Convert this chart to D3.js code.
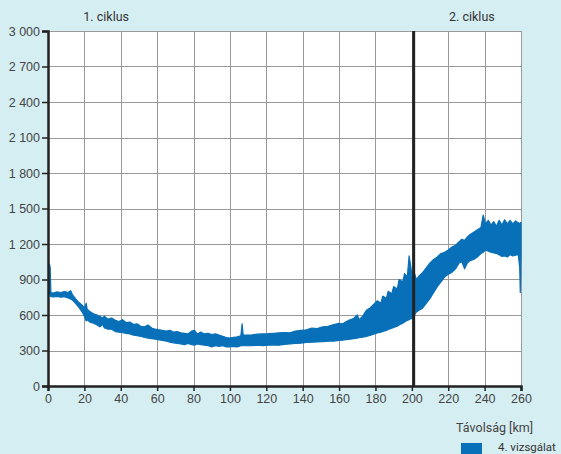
<!DOCTYPE html>
<html>
<head>
<meta charset="utf-8">
<script src="https://cdn.jsdelivr.net/npm/d3@7"></script>
<style>
body { margin:0; background:#d5eef2; }
svg { display:block; font-family: Roboto, "Noto Sans", sans-serif; }
</style>
</head>
<body>
<div id="chart"></div>
<script>
var km = [0.3, 0.8, 1.2, 1.6, 3, 5, 7, 9, 11, 12.5, 13.5, 15, 17, 19, 20, 21, 21.5, 23, 25, 27, 28.5, 30, 31, 33, 35, 37, 39, 41, 43, 45, 47, 49, 51, 53, 55, 57, 59,
    61, 63, 65, 67, 69, 71, 73, 75, 77, 79, 80.5, 82, 84, 86, 88, 90, 92, 94, 96, 98, 100, 102, 104, 106, 106.7, 107.3, 109, 112, 115, 118, 121, 124, 127,
    130, 133, 136, 139, 142, 145, 148, 151, 154, 157, 160, 162, 164, 166, 168, 170, 171, 173, 175, 177, 179, 181, 183, 184, 186, 187, 189, 190, 192, 193,
    195, 196, 197.5, 198.5, 199.5, 200.5, 201.5, 202.5, 204, 206, 208, 210, 212, 214, 216, 218, 220, 222, 224, 226, 227.5, 229, 230.5, 232, 234, 236, 238,
    239.2, 240.5, 242, 243.5, 245, 246.5, 248, 249.5, 251, 252.5, 254, 255.5, 257, 258.5, 259.3, 259.6, 260];
var lower = [780, 800, 760, 755, 752, 758, 750, 755, 745, 735, 725, 700, 665, 620, 590, 550, 560, 540, 530, 515, 500, 520, 490, 480, 480, 460, 455, 450, 445, 440, 430, 425, 420, 410, 405, 400, 395,
    390, 385, 380, 370, 365, 360, 355, 350, 360, 350, 345, 355, 350, 345, 340, 330, 340, 335, 340, 330, 330, 335, 330, 340, 340, 340, 340, 340, 345, 342, 345, 348, 345,
    352, 355, 360, 362, 368, 370, 372, 375, 378, 380, 385, 388, 392, 395, 400, 405, 408, 412, 420, 428, 438, 448, 455, 462, 470, 478, 488, 495, 505, 515,
    530, 540, 555, 560, 570, 570, 600, 625, 640, 660, 700, 740, 790, 840, 880, 920, 945, 960, 990, 1040, 1050, 990, 1040, 1060, 1070, 1090, 1120,
    1130, 1150, 1140, 1130, 1125, 1120, 1110, 1095, 1100, 1090, 1110, 1100, 1105, 1110, 1000, 790, 1100];
var upper = [800, 1030, 1000, 790, 785, 795, 790, 798, 790, 805, 770, 740, 705, 680, 660, 700, 650, 630, 610, 600, 590, 575, 590, 565, 575, 555, 545, 560, 535, 540, 520, 525, 505, 500, 515, 490, 480,
    475, 470, 465, 470, 455, 460, 450, 445, 440, 465, 470, 440, 455, 440, 445, 435, 440, 430, 420, 410, 405, 412, 415, 425, 525, 430, 430, 432, 438, 440, 442, 446, 450,
    452, 450, 465, 470, 475, 490, 485, 500, 505, 520, 530, 525, 545, 560, 570, 600, 560, 590, 640, 660, 690, 720, 700, 760, 740, 800, 780, 840, 820, 900,
    880, 950, 920, 1100, 1000, 880, 950, 900, 930, 960, 1000, 1040, 1070, 1090, 1120, 1130, 1150, 1175, 1190, 1220, 1240, 1230, 1260, 1280, 1300, 1320, 1340,
    1445, 1370, 1400, 1360, 1390, 1350, 1400, 1360, 1405, 1370, 1400, 1370, 1395, 1380, 1370, 1380, 1380];

var xTicks = [0, 20, 40, 60, 80, 100, 120, 140, 160, 180, 200, 220, 240, 260];
var yTicks = [0, 300, 600, 900, 1200, 1500, 1800, 2100, 2400, 2700, 3000];
var cycleKm = 201;
var cycleLabels = [{km: 32, text: "1. ciklus"}, {km: 233, text: "2. ciklus"}];
var seriesName = "4. vizsgálat";
var xTitle = "Távolság [km]";

var W = 561, H = 454;
var margin = {top: 31, right: 40, bottom: 68, left: 48};
var width = W - margin.left - margin.right;
var height = H - margin.top - margin.bottom;

var blue = "#0870b8";

var svg = d3.select("#chart").append("svg")
    .attr("width", W).attr("height", H);

var x = d3.scaleLinear().domain([0, 260]).range([0, width]);
var y = d3.scaleLinear().domain([0, 3000]).range([height, 0]);

var g = svg.append("g").attr("transform", "translate(" + margin.left + "," + margin.top + ")");

g.append("rect").attr("width", width).attr("height", height).attr("fill", "#fff");

// grid
g.selectAll(".vgrid").data(xTicks.slice(1)).enter().append("line")
    .attr("x1", function(d){ return Math.round(x(d)) + 0.5; })
    .attr("x2", function(d){ return Math.round(x(d)) + 0.5; })
    .attr("y1", 0).attr("y2", height)
    .attr("stroke", "#9a9a9a").attr("stroke-width", 1);
g.selectAll(".hgrid").data(yTicks.slice(1)).enter().append("line")
    .attr("x1", 0).attr("x2", width)
    .attr("y1", function(d){ return Math.round(y(d)) + 0.5; })
    .attr("y2", function(d){ return Math.round(y(d)) + 0.5; })
    .attr("stroke", "#9a9a9a").attr("stroke-width", 1);

// series band
var pts = km.map(function(k, i){ return {km: k, lo: lower[i], hi: upper[i]}; });
var area = d3.area()
    .x(function(d){ return x(d.km); })
    .y0(function(d){ return y(d.lo); })
    .y1(function(d){ return y(d.hi); });
g.append("path").attr("d", area(pts))
    .attr("fill", blue).attr("stroke", blue).attr("stroke-width", 1.2)
    .attr("stroke-linejoin", "round");

// cycle divider
g.append("line")
    .attr("x1", x(cycleKm)).attr("x2", x(cycleKm))
    .attr("y1", 0).attr("y2", height)
    .attr("stroke", "#222").attr("stroke-width", 3);

// axes
var xAxis = g.append("g").attr("transform", "translate(0," + height + ")")
    .call(d3.axisBottom(x).tickValues(xTicks).tickSize(5).tickPadding(3));
var yAxis = g.append("g")
    .call(d3.axisLeft(y).tickValues(yTicks).tickSize(6).tickPadding(2)
        .tickFormat(function(d){ return d3.format(",")(d).replace(/,/g, " "); }));
[xAxis, yAxis].forEach(function(a){
    a.select(".domain").attr("stroke", "#222").attr("stroke-width", 2.5);
    a.selectAll(".tick line").attr("stroke", "#222").attr("stroke-width", 1.5);
    a.selectAll("text").attr("fill", "#444").attr("font-size", 12.5);
});

// cycle labels
g.selectAll(".cyc").data(cycleLabels).enter().append("text")
    .attr("x", function(d){ return x(d.km); })
    .attr("y", -10)
    .attr("text-anchor", "middle")
    .attr("fill", "#333").attr("font-size", 12.5)
    .text(function(d){ return d.text; });

// axis title and legend
svg.append("text").attr("x", 533).attr("y", 432)
    .attr("text-anchor", "end").attr("fill", "#444").attr("font-size", 12.5)
    .text(xTitle);
svg.append("rect").attr("x", 461).attr("y", 443).attr("width", 21).attr("height", 12).attr("fill", blue);
svg.append("text").attr("x", 498).attr("y", 451)
    .attr("fill", "#333").attr("font-size", 11.5)
    .text(seriesName);
</script>
</body>
</html>
